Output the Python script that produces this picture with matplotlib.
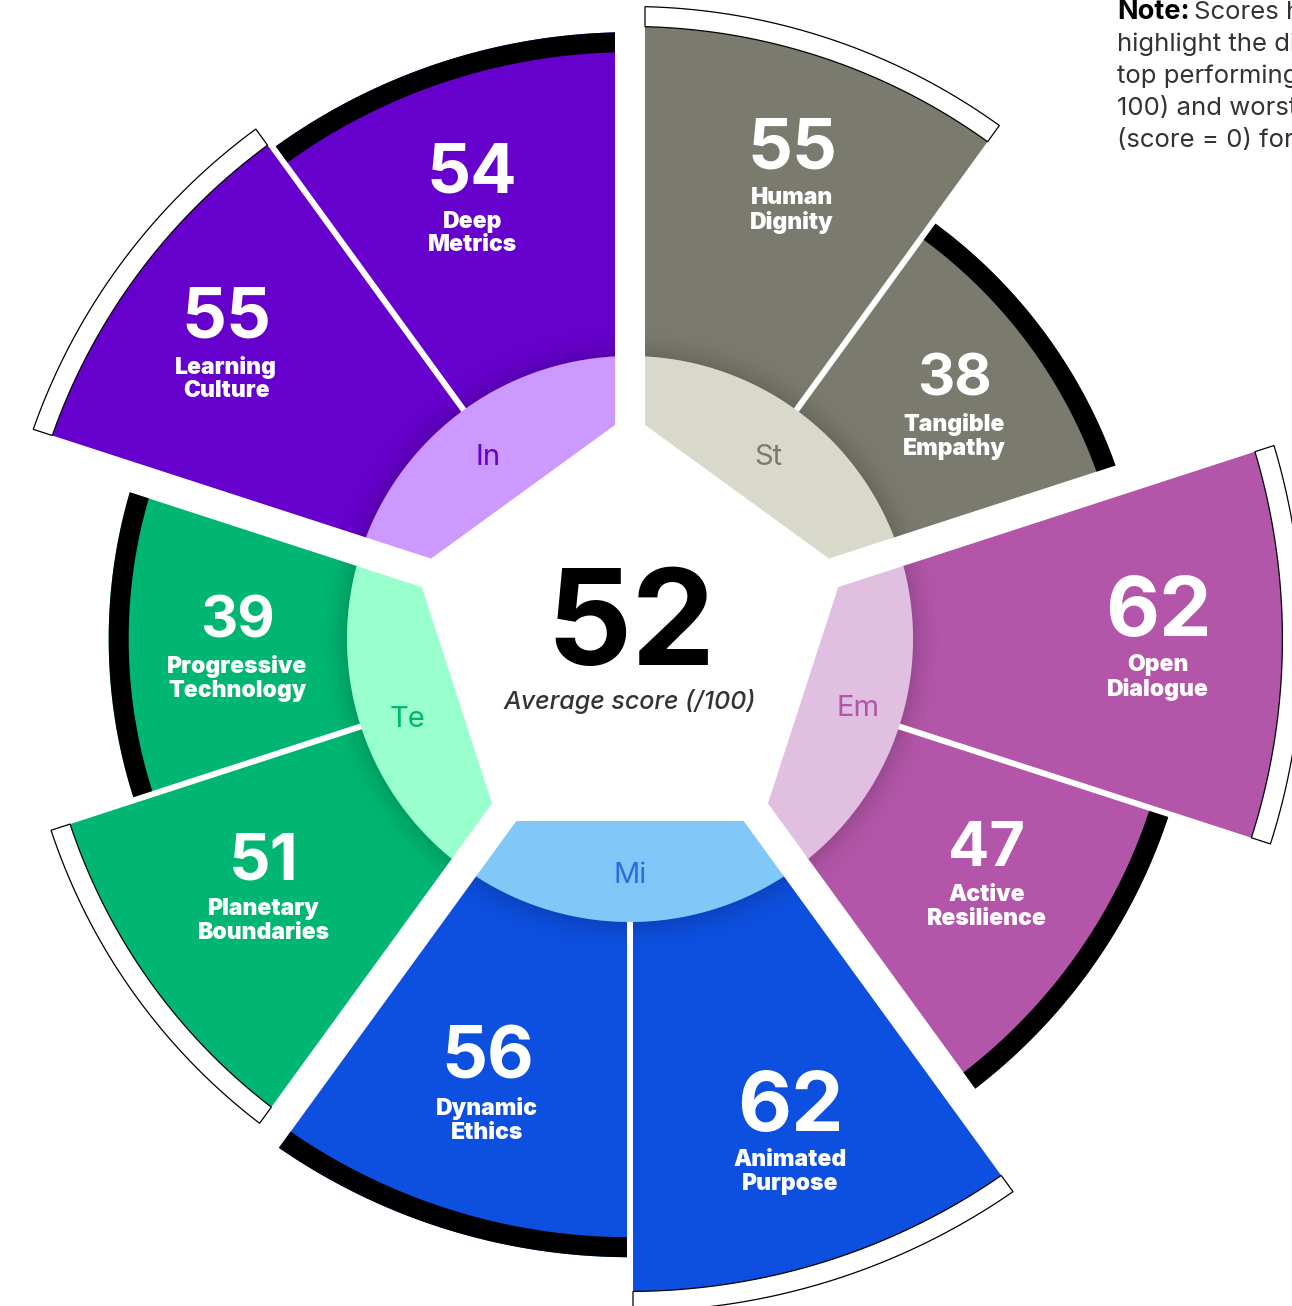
import numpy as np
import matplotlib
matplotlib.use("Agg")
import matplotlib.pyplot as plt
from matplotlib.patches import Polygon

# ---------------- data ----------------
groups = ["St", "Em", "Mi", "Te", "In"]
group_colors = ["#7A7A6E", "#B356A9", "#0D4FDF", "#00B672", "#6600CC"]
group_light = ["#D9D9CB", "#E0BFE0", "#80C8F7", "#99FFCC", "#CC99FF"]
group_text_colors = ["#7A7A6E", "#B356A9", "#2E6BE0", "#00B672", "#6600CC"]

segment_names = ["Human\nDignity", "Tangible\nEmpathy", "Open\nDialogue", "Active\nResilience",
                 "Animated\nPurpose", "Dynamic\nEthics", "Planetary\nBoundaries",
                 "Progressive\nTechnology", "Learning\nCulture", "Deep\nMetrics"]
segment_scores = [55, 38, 62, 47, 62, 56, 51, 39, 55, 54]

average_label = "Average score (/100)"
note_lines = ["Scores have been normalized to", "highlight the difference between",
              "top performing (score =", "100) and worst performing",
              "(score = 0) for each dimension."]

# ---------------- layout ----------------
W, H = 1292, 1306
CX, CY = 630, 639          # chart centre in pixels (from top-left)
R_LIGHT = 283
APOTHEM = 182
GAP = 15                   # half width of gap between groups
SEP = 3                    # half width of separator inside group
BAND = 20
R0, K = 299.0, 5.7         # radius scale: r = R0 + K * score
label_radius = [488, 400, 528, 428, 527, 472, 444, 393, 498, 464]
label_angle = [70.6, 35.8, -0.8, -33.6, -72.3, -107.6, -145.6, 181.2, 144.2, 109.9]
group_label_radius = [230, 238, 235, 236, 232]
group_label_angle = [52.9, -16.4, -90.0, 199.3, 127.7]
FONT = ["Inter", "Roboto", "DejaVu Sans"]

def radius(s):
    return R0 + K * s

fig = plt.figure(figsize=(W / 100, H / 100), dpi=100)
ax = fig.add_axes([0, 0, 1, 1])
ax.set_xlim(-CX, W - CX)
ax.set_ylim(-(H - CY), CY)
ax.axis("off")

def unit(a):
    a = np.radians(a)
    return np.array([np.cos(a), np.sin(a)])

def arc(r, a1, a2, n=160):
    t = np.radians(np.linspace(a1, a2, n))
    return np.column_stack([r * np.cos(t), r * np.sin(t)])

def lim(r, h):
    return np.degrees(np.arcsin(h / r))

def seg_poly(r1, r2, hi, lo, h_hi, h_lo):
    outer = arc(r2, hi - lim(r2, h_hi), lo + lim(r2, h_lo))
    inner = arc(r1, lo + lim(r1, h_lo), hi - lim(r1, h_hi))
    return np.vstack([outer, inner])

def chord_point(theta_b, n_ang, h, bis, a):
    d, n, u = unit(theta_b), unit(n_ang), unit(bis)
    s = (a - h * np.dot(n, u)) / np.dot(d, u)
    return s * d + h * n

mean_score = np.mean(segment_scores)
s_min = min(segment_scores)

for g, name in enumerate(groups):
    hi = 90 - 72 * g
    lo = hi - 72
    bis = hi - 36
    # light inner region
    outer = arc(R_LIGHT, hi - lim(R_LIGHT, GAP), lo + lim(R_LIGHT, GAP))
    p_lo = chord_point(lo, lo + 90, GAP, bis, APOTHEM)
    p_hi = chord_point(hi, hi - 90, GAP, bis, APOTHEM)
    ax.add_patch(Polygon(np.vstack([outer, p_lo, p_hi]), closed=True,
                         facecolor=group_light[g], edgecolor="none", zorder=3))
    gp = unit(group_label_angle[g]) * group_label_radius[g]
    ax.text(gp[0], gp[1] - 2, name, ha="center", va="center", fontsize=21,
            color=group_text_colors[g], family=FONT, zorder=6)

    sc = segment_scores[2 * g:2 * g + 2]
    for j in range(2):
        idx = 2 * g + j
        s_hi = hi - 36 * j
        s_lo = s_hi - 36
        h_hi = GAP if j == 0 else SEP
        h_lo = SEP if j == 0 else GAP
        r = radius(sc[j])
        ax.add_patch(Polygon(seg_poly(R_LIGHT - 2, r, s_hi, s_lo, h_hi, h_lo), closed=True,
                             facecolor=group_colors[g], edgecolor="none", zorder=2))
        # soft shadow under light ring
        N = 14
        for i in range(N):
            r1 = R_LIGHT + 2.2 * i
            ax.add_patch(Polygon(seg_poly(r1, r1 + 2.2, s_hi, s_lo, h_hi, h_lo), closed=True,
                                 facecolor="black", edgecolor="none",
                                 alpha=0.13 * (1 - i / N) ** 2, zorder=2.5))
        if sc[j] == max(sc):
            ax.add_patch(Polygon(seg_poly(r, r + BAND, s_hi, s_lo, h_hi, h_lo), closed=True,
                                 facecolor="white", edgecolor="black", lw=0.9, zorder=4))
        else:
            ax.add_patch(Polygon(seg_poly(r - BAND, r, s_hi, s_lo, h_hi, h_lo), closed=True,
                                 facecolor="black", edgecolor="none", zorder=4))
        # labels
        lp = unit(label_angle[idx]) * label_radius[idx]
        fs = 41.5 + 0.032 * (sc[j] - s_min) ** 2
        ax.text(lp[0], lp[1] + 10, str(sc[j]), ha="center", va="baseline", fontsize=fs,
                color="white", fontweight="bold", family=FONT, zorder=6)
        ax.text(lp[0], lp[1] - 8, segment_names[idx], ha="center", va="top", fontsize=16.5,
                color="white", fontweight="black", linespacing=1.1,
                family=FONT, zorder=6)

# centre
ax.text(1, -26, f"{mean_score:.0f}", ha="center", va="baseline", fontsize=96,
        fontweight="bold", color="black", family=FONT, zorder=6)
ax.text(0, -70, average_label, ha="center", va="baseline", fontsize=18,
        style="italic", fontweight="medium", color="#333333",
        family=FONT, zorder=6)

# note (top right, clipped by the canvas)
for i, line in enumerate(note_lines):
    y = CY - (19 + 32 * i)
    if i == 0:
        ax.text(1117 - CX, y, "Note:", ha="left", va="baseline", fontsize=19.5,
                fontweight="bold", color="black", family=FONT)
        ax.text(1194 - CX, y, line, ha="left", va="baseline", fontsize=18.5,
                color="#333333", family=FONT)
    else:
        ax.text(1117 - CX, y, line, ha="left", va="baseline", fontsize=18.5,
                color="#333333", family=FONT)

fig.savefig("out.png", dpi=100, facecolor="white")
